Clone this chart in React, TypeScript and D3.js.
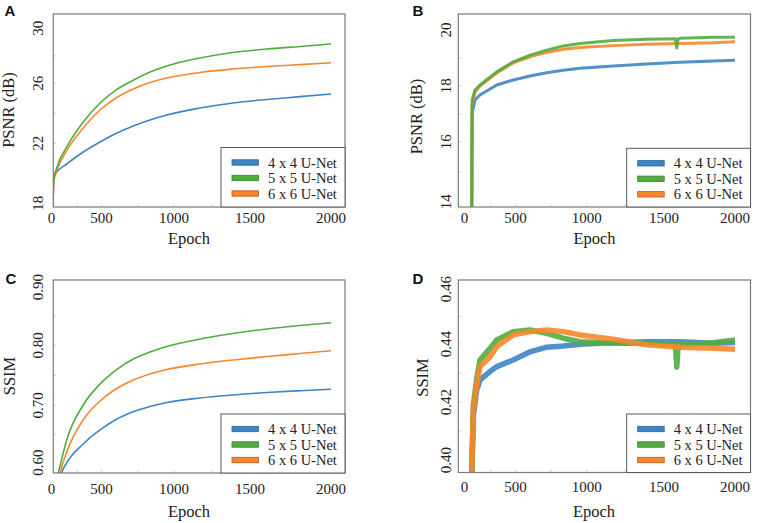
import React from "react";
import * as d3 from "d3";

// ---------- shared ----------
const EPOCH_TICKS = [0, 500, 1000, 1500, 2000];
const SERIES_NAMES = ["4 x 4 U-Net", "5 x 5 U-Net", "6 x 6 U-Net"];

// ---------- Panel A: PSNR (smooth) ----------
const A_TICKS = [18, 22, 26, 30];
const A_EPOCHS = [0, 8, 38, 141, 312, 485, 600, 719, 834, 950, 1171, 1388, 1603, 1809, 2000];
const A_BLUE = [17.7, 19.82, 20.09, 20.62, 21.42, 22.09, 22.65, 23.15, 23.55, 23.89, 24.35, 24.69, 24.92, 25.11, 25.29];
const A_GREEN = [17.7, 19.55, 20.35, 21.75, 23.42, 24.69, 25.55, 26.22, 26.82, 27.26, 27.84, 28.24, 28.49, 28.68, 28.86];
const A_ORANGE = [17.7, 19.42, 20.15, 21.49, 23.02, 24.22, 25.02, 25.62, 26.05, 26.38, 26.79, 27.04, 27.22, 27.36, 27.49];

// ---------- Panel B: PSNR (noisy) ----------
const B_TICKS = [14, 16, 18, 20];
const B_EPOCHS = [58, 62, 91, 141, 310, 477, 602, 719, 836, 953, 1172, 1388, 1613, 1847, 2000];
const B_BLUE = [13.5, 17.0, 17.49, 17.67, 18.03, 18.21, 18.35, 18.47, 18.56, 18.63, 18.71, 18.78, 18.84, 18.89, 18.92];
const B_ORANGE = [13.5, 17.3, 17.78, 17.99, 18.46, 18.82, 19.04, 19.2, 19.31, 19.37, 19.44, 19.49, 19.52, 19.54, 19.58];
const B_GREEN_EPOCHS = [58, 62, 91, 141, 310, 477, 602, 719, 836, 953, 1172, 1388, 1580, 1590, 1600, 1613, 1847, 2000];
const B_GREEN = [13.5, 17.49, 17.85, 18.03, 18.5, 18.86, 19.1, 19.28, 19.43, 19.52, 19.62, 19.67, 19.69, 19.35, 19.69, 19.7, 19.74, 19.74];

// ---------- Panel C: SSIM (smooth) ----------
const C_TICKS = [0.6, 0.7, 0.8, 0.9];
const C_EPOCHS = [55, 72, 90, 141, 312, 485, 600, 719, 834, 950, 1171, 1388, 1603, 1809, 2000];
const C_BLUE = [0.53, 0.56, 0.582, 0.5995, 0.6326, 0.657, 0.6753, 0.6888, 0.698, 0.7047, 0.7122, 0.7172, 0.7213, 0.7243, 0.7267];
const C_GREEN = [0.582, 0.594, 0.6064, 0.6395, 0.7005, 0.7355, 0.7588, 0.7772, 0.7888, 0.798, 0.8108, 0.8202, 0.828, 0.834, 0.8388];
const C_ORANGE = [0.565, 0.582, 0.5925, 0.6186, 0.6749, 0.7072, 0.7272, 0.7422, 0.7522, 0.7597, 0.7688, 0.7755, 0.7813, 0.7863, 0.791];

// ---------- Panel D: SSIM (noisy) ----------
const D_TICKS = [0.4, 0.42, 0.44, 0.46];
const D_EPOCHS = [58, 74, 108, 141, 242, 310, 477, 602, 719, 836, 953, 1172, 1388, 1613, 1847, 2000];
const D_BLUE = [0.395, 0.415, 0.4241, 0.4276, 0.4305, 0.4322, 0.4345, 0.4373, 0.4389, 0.4393, 0.4399, 0.4405, 0.4408, 0.4408, 0.4403, 0.4405];
const D_ORANGE = [0.395, 0.417, 0.426, 0.4322, 0.4356, 0.4391, 0.4433, 0.4445, 0.4451, 0.4445, 0.4433, 0.4417, 0.4397, 0.4389, 0.4385, 0.4382];
const D_GREEN_EPOCHS = [58, 74, 108, 141, 242, 310, 477, 602, 719, 836, 953, 1172, 1388, 1580, 1590, 1600, 1613, 1847, 2000];
const D_GREEN = [0.395, 0.419, 0.428, 0.4345, 0.4385, 0.4415, 0.4445, 0.4451, 0.4439, 0.4421, 0.4408, 0.4403, 0.4403, 0.4398, 0.432, 0.4398, 0.4397, 0.4405, 0.4415];

const COLORS = { blue: "#3d85c6", green: "#4fae3f", orange: "#f7872c" };
const BORDERS = { blue: "#2a64a0", green: "#347f27", orange: "#c0581a" };

const SERIF = "'Liberation Serif', 'Times New Roman', serif";
const SANS = "'Liberation Sans', Arial, sans-serif";

type Series = { key: "blue" | "green" | "orange"; epochs: number[]; values: number[] };

type PanelProps = {
  id: string;
  letter: string;
  frame: { x0: number; y0: number; x1: number; y1: number };
  xPos: number[];
  yTicks: number[];
  yPos: number[];
  yFmt: (v: number) => string;
  yTitle: string;
  yTitleX: number;
  yTitleY: number;
  yLabelX: number;
  xLabelY: number;
  epochY: number;
  epochX: number;
  series: Series[];
  strokeW: number;
  smooth: boolean;
  legend: { x: number; y: number };
  letterPos: { x: number; y: number };
};

function Panel(p: PanelProps) {
  const { frame } = p;
  const x = d3.scaleLinear().domain(EPOCH_TICKS).range(p.xPos);
  const y = d3.scaleLinear().domain(p.yTicks).range(p.yPos);
  const line = d3
    .line<[number, number]>()
    .x((d) => x(d[0]))
    .y((d) => y(d[1]))
    .curve(p.smooth ? d3.curveMonotoneX : d3.curveLinear);

  const clipId = `clip-${p.id}`;
  const legendKeys: Series["key"][] = ["blue", "green", "orange"];

  const minorX: number[] = [];
  for (let i = 0; i < EPOCH_TICKS.length - 1; i++) {
    minorX.push((EPOCH_TICKS[i] + EPOCH_TICKS[i + 1]) / 2);
  }
  const minorY: number[] = [];
  for (let i = 0; i < p.yTicks.length - 1; i++) {
    minorY.push((p.yTicks[i] + p.yTicks[i + 1]) / 2);
  }

  return (
    <g>
      <defs>
        <clipPath id={clipId}>
          <rect x={frame.x0} y={frame.y0} width={frame.x1 - frame.x0} height={frame.y1 - frame.y0} />
        </clipPath>
      </defs>
      {[...EPOCH_TICKS.slice(1, 4), ...minorX].map((t, i) => (
        <line key={`tx${i}`} x1={x(t)} x2={x(t)} y1={frame.y1} y2={frame.y1 - 3} stroke="#c8c8c8" strokeWidth={0.8} />
      ))}
      {[...p.yTicks.slice(1, 3), ...minorY].map((t, i) => (
        <line key={`ty${i}`} x1={frame.x0} x2={frame.x0 + 3} y1={y(t)} y2={y(t)} stroke="#c8c8c8" strokeWidth={0.8} />
      ))}
      <g clipPath={`url(#${clipId})`}>
        {p.series.map((s) => (
          <path
            key={s.key}
            d={line(s.epochs.map((e, i) => [e, s.values[i]] as [number, number])) || ""}
            fill="none"
            stroke={COLORS[s.key]}
            strokeWidth={p.strokeW}
            strokeLinejoin="round"
            strokeOpacity={p.smooth ? 1 : 0.9}
          />
        ))}
      </g>
      <rect
        x={frame.x0}
        y={frame.y0}
        width={frame.x1 - frame.x0}
        height={frame.y1 - frame.y0}
        fill="none"
        stroke="#7a7a7a"
        strokeWidth={1.2}
      />
      <rect
        x={p.legend.x}
        y={p.legend.y}
        width={frame.x1 - p.legend.x}
        height={frame.y1 - p.legend.y}
        fill="#fff"
        stroke="#5a5a5a"
        strokeWidth={1}
      />
      {legendKeys.map((k, i) => {
        const cy = p.legend.y + 15 + i * 15.5;
        return (
          <g key={k}>
            <rect
              x={p.legend.x + 11}
              y={cy - 2.7}
              width={26.5}
              height={5.4}
              fill={COLORS[k]}
              stroke={BORDERS[k]}
              strokeWidth={0.8}
            />
            <text x={p.legend.x + 47} y={cy + 5} fontFamily={SERIF} fontSize={14.5} fill="#222">
              {SERIES_NAMES[i]}
            </text>
          </g>
        );
      })}
      {EPOCH_TICKS.map((t, i) => (
        <text
          key={`xl${i}`}
          x={i === 0 ? x(t) - 1.5 : x(t)}
          y={p.xLabelY}
          textAnchor="middle"
          fontFamily={SERIF}
          fontSize={15}
          fill="#222"
        >
          {t}
        </text>
      ))}
      {p.yTicks.map((t, i) => (
        <text
          key={`yl${i}`}
          transform={`translate(${p.yLabelX},${y(t)}) rotate(-90)`}
          textAnchor="middle"
          fontFamily={SERIF}
          fontSize={15}
          fill="#222"
        >
          {p.yFmt(t)}
        </text>
      ))}
      <text x={p.epochX} y={p.epochY} textAnchor="middle" fontFamily={SERIF} fontSize={16.5} fill="#222">
        Epoch
      </text>
      <text
        transform={`translate(${p.yTitleX},${p.yTitleY}) rotate(-90)`}
        textAnchor="middle"
        fontFamily={SERIF}
        fontSize={16.5}
        fill="#222"
      >
        {p.yTitle}
      </text>
      <text x={p.letterPos.x} y={p.letterPos.y} fontFamily={SANS} fontWeight="bold" fontSize={15} fill="#111">
        {p.letter}
      </text>
    </g>
  );
}

export default function App() {
  const xLeft = [53, 101.5, 174, 250, 331];
  const xRight = [466, 515.5, 586.7, 664, 735];
  const fmt0 = (v: number) => d3.format("d")(v);
  const fmt2 = (v: number) => d3.format(".2f")(v);
  return (
    <svg
      width={764}
      height={523}
      viewBox="0 0 764 523"
      style={{ position: "absolute", left: 0, top: 0, background: "#fff" }}
    >
      <rect x={0} y={0} width={764} height={523} fill="#fff" />
      <Panel
        id="A"
        letter="A"
        frame={{ x0: 53.3, y0: 14, x1: 345, y1: 207 }}
        xPos={xLeft}
        yTicks={A_TICKS}
        yPos={[203.3, 143.3, 83.3, 28.3]}
        yFmt={fmt0}
        yTitle="PSNR (dB)"
        yTitleX={13.5}
        yTitleY={110}
        yLabelX={43}
        xLabelY={223}
        epochX={189}
        epochY={244}
        smooth={true}
        strokeW={1.6}
        series={[
          { key: "blue", epochs: A_EPOCHS, values: A_BLUE },
          { key: "orange", epochs: A_EPOCHS, values: A_ORANGE },
          { key: "green", epochs: A_EPOCHS, values: A_GREEN },
        ]}
        legend={{ x: 221, y: 147.5 }}
        letterPos={{ x: 4.5, y: 15.5 }}
      />
      <Panel
        id="B"
        letter="B"
        frame={{ x0: 458.3, y0: 14, x1: 750.5, y1: 207 }}
        xPos={xRight}
        yTicks={B_TICKS}
        yPos={[201.7, 141.7, 85.8, 30]}
        yFmt={fmt0}
        yTitle="PSNR (dB)"
        yTitleX={422}
        yTitleY={116.5}
        yLabelX={451}
        xLabelY={223}
        epochX={594.5}
        epochY={244}
        smooth={false}
        strokeW={3}
        series={[
          { key: "blue", epochs: B_EPOCHS, values: B_BLUE },
          { key: "orange", epochs: B_EPOCHS, values: B_ORANGE },
          { key: "green", epochs: B_GREEN_EPOCHS, values: B_GREEN },
        ]}
        legend={{ x: 626.7, y: 148.3 }}
        letterPos={{ x: 412.5, y: 15.5 }}
      />
      <Panel
        id="C"
        letter="C"
        frame={{ x0: 53.3, y0: 280, x1: 345, y1: 473 }}
        xPos={xLeft}
        yTicks={C_TICKS}
        yPos={[462.7, 405.3, 345.3, 287]}
        yFmt={fmt2}
        yTitle="SSIM"
        yTitleX={15}
        yTitleY={376}
        yLabelX={43}
        xLabelY={493.5}
        epochX={189}
        epochY={517}
        smooth={true}
        strokeW={1.6}
        series={[
          { key: "blue", epochs: C_EPOCHS, values: C_BLUE },
          { key: "orange", epochs: C_EPOCHS, values: C_ORANGE },
          { key: "green", epochs: C_EPOCHS, values: C_GREEN },
        ]}
        legend={{ x: 221, y: 414 }}
        letterPos={{ x: 5.5, y: 283.5 }}
      />
      <Panel
        id="D"
        letter="D"
        frame={{ x0: 458.3, y0: 280, x1: 750.5, y1: 472.5 }}
        xPos={xRight}
        yTicks={D_TICKS}
        yPos={[460, 402, 344, 289]}
        yFmt={fmt2}
        yTitle="SSIM"
        yTitleX={428}
        yTitleY={377.5}
        yLabelX={451}
        xLabelY={491.5}
        epochX={594}
        epochY={517}
        smooth={false}
        strokeW={5.5}
        series={[
          { key: "blue", epochs: D_EPOCHS, values: D_BLUE },
          { key: "green", epochs: D_GREEN_EPOCHS, values: D_GREEN },
          { key: "orange", epochs: D_EPOCHS, values: D_ORANGE },
        ]}
        legend={{ x: 626.7, y: 414 }}
        letterPos={{ x: 412.5, y: 283.5 }}
      />
    </svg>
  );
}
